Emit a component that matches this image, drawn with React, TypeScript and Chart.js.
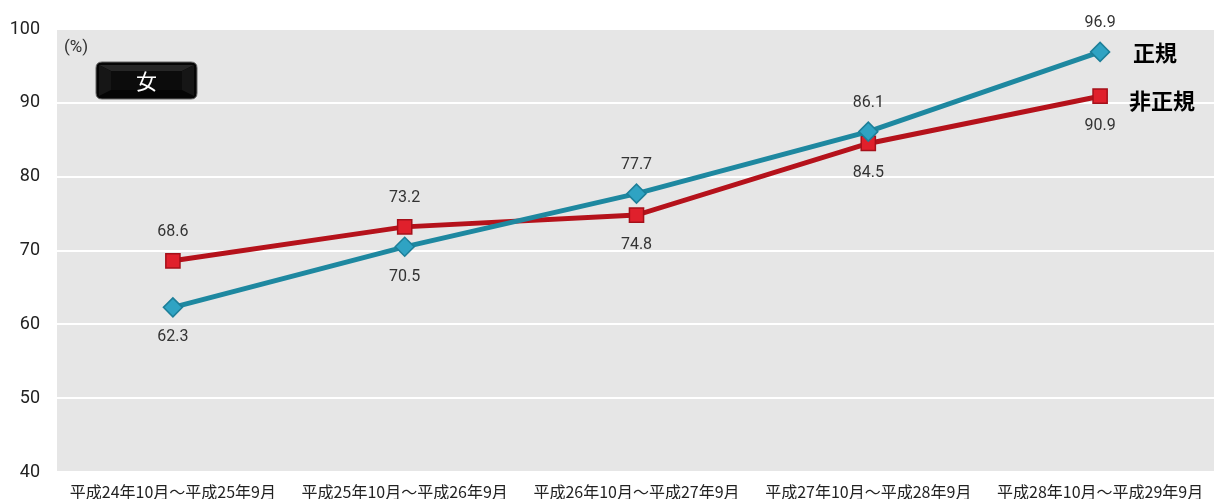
import React, { useEffect, useRef } from "react";
import { Chart, registerables } from "chart.js";

Chart.register(...registerables);

const categories = [
  "平成24年10月～平成25年9月",
  "平成25年10月～平成26年9月",
  "平成26年10月～平成27年9月",
  "平成27年10月～平成28年9月",
  "平成28年10月～平成29年9月",
];
const seiki = [62.3, 70.5, 77.7, 86.1, 96.9];
const hiseiki = [68.6, 73.2, 74.8, 84.5, 90.9];
const seikiLabelPos = ["below", "below", "above", "above", "above"];
const hiseikiLabelPos = ["above", "above", "below", "below", "below"];
const seriesNames = ["正規", "非正規"];
const yTicks = [40, 50, 60, 70, 80, 90, 100];

const NUM = "Roboto, 'Liberation Sans Narrow', sans-serif";
const JP = "'Noto Sans CJK JP', sans-serif";

const decorPlugin = {
  id: "decor",
  beforeDraw(chart: any) {
    const { ctx, chartArea } = chart;
    ctx.save();
    ctx.fillStyle = "#e6e6e6";
    ctx.fillRect(chartArea.left, chartArea.top, chartArea.right - chartArea.left, chartArea.bottom - chartArea.top);
    ctx.restore();
  },
  afterDraw(chart: any) {
    const { ctx, chartArea } = chart;
    ctx.save();
    // (%) label
    ctx.fillStyle = "#333";
    ctx.font = `17px ${NUM}`;
    ctx.textAlign = "left";
    ctx.textBaseline = "middle";
    ctx.fillText("(%)", chartArea.left + 7, chartArea.top + 19);

    // 女 badge
    const bx = chartArea.left + 39, by = chartArea.top + 33, bw = 101, bh = 37, r = 6;
    ctx.beginPath();
    ctx.moveTo(bx + r, by);
    ctx.lineTo(bx + bw - r, by);
    ctx.quadraticCurveTo(bx + bw, by, bx + bw, by + r);
    ctx.lineTo(bx + bw, by + bh - r);
    ctx.quadraticCurveTo(bx + bw, by + bh, bx + bw - r, by + bh);
    ctx.lineTo(bx + r, by + bh);
    ctx.quadraticCurveTo(bx, by + bh, bx, by + bh - r);
    ctx.lineTo(bx, by + r);
    ctx.quadraticCurveTo(bx, by, bx + r, by);
    ctx.closePath();
    ctx.fillStyle = "#050505";
    ctx.fill();
    ctx.strokeStyle = "#666";
    ctx.lineWidth = 1;
    ctx.stroke();
    // bevel
    const ins = 6;
    ctx.fillStyle = "#262626";
    ctx.beginPath();
    ctx.moveTo(bx + 3, by + 3);
    ctx.lineTo(bx + bw - 3, by + 3);
    ctx.lineTo(bx + bw - 3 - ins * 2, by + 3 + ins);
    ctx.lineTo(bx + 3 + ins * 2, by + 3 + ins);
    ctx.closePath();
    ctx.fill();
    ctx.fillStyle = "#161616";
    ctx.beginPath();
    ctx.moveTo(bx + bw - 3, by + 3);
    ctx.lineTo(bx + bw - 3, by + bh - 3);
    ctx.lineTo(bx + bw - 3 - ins * 2, by + bh - 3 - ins);
    ctx.lineTo(bx + bw - 3 - ins * 2, by + 3 + ins);
    ctx.closePath();
    ctx.fill();
    ctx.beginPath();
    ctx.moveTo(bx + 3, by + 3);
    ctx.lineTo(bx + 3, by + bh - 3);
    ctx.lineTo(bx + 3 + ins * 2, by + bh - 3 - ins);
    ctx.lineTo(bx + 3 + ins * 2, by + 3 + ins);
    ctx.closePath();
    ctx.fill();
    ctx.fillStyle = "#0c0c0c";
    ctx.fillRect(bx + 3 + ins * 2, by + 3 + ins, bw - 6 - ins * 4, bh - 6 - ins * 2);
    ctx.fillStyle = "#ffffff";
    ctx.font = `21px ${JP}`;
    ctx.textAlign = "center";
    ctx.textBaseline = "middle";
    ctx.fillText("女", bx + bw / 2, by + bh / 2 + 1);

    // data labels
    const positions = [seikiLabelPos, hiseikiLabelPos];
    ctx.font = `16px ${NUM}`;
    ctx.fillStyle = "#333";
    ctx.textAlign = "center";
    chart.data.datasets.forEach((ds: any, di: number) => {
      const meta = chart.getDatasetMeta(di);
      meta.data.forEach((pt: any, i: number) => {
        const v = ds.data[i];
        const pos = positions[di][i];
        const y = pos === "above" ? pt.y - 29 : pt.y + 30;
        ctx.fillText(v.toFixed(1), pt.x, y);
      });
    });

    // series names at end
    ctx.font = `bold 22px ${JP}`;
    ctx.fillStyle = "#000";
    ctx.textAlign = "left";
    const m0 = chart.getDatasetMeta(0).data;
    const m1 = chart.getDatasetMeta(1).data;
    const p0 = m0[m0.length - 1];
    const p1 = m1[m1.length - 1];
    ctx.fillText(seriesNames[0], p0.x + 33, p0.y + 1);
    ctx.fillText(seriesNames[1], p1.x + 29, p1.y + 4);
    ctx.restore();
  },
};

export default function App() {
  const ref = useRef<HTMLCanvasElement | null>(null);
  useEffect(() => {
    if (!ref.current) return;
    const chart = new Chart(ref.current, {
      type: "line",
      data: {
        labels: categories,
        datasets: [
          {
            label: seriesNames[0],
            data: seiki,
            borderColor: "#1e88a0",
            borderWidth: 5,
            pointStyle: "rectRot",
            pointRadius: 9.5,
            pointBackgroundColor: "#2fa3c3",
            pointBorderColor: "#1d7f99",
            pointBorderWidth: 1.5,
            tension: 0,
          },
          {
            label: seriesNames[1],
            data: hiseiki,
            borderColor: "#b5121b",
            borderWidth: 5,
            pointStyle: "rect",
            pointRadius: 10,
            pointBackgroundColor: "#e0202c",
            pointBorderColor: "#a5101a",
            pointBorderWidth: 1.5,
            tension: 0,
          },
        ],
      },
      options: {
        animation: false,
        responsive: false,
        maintainAspectRatio: false,
        layout: { autoPadding: false, padding: { top: 29, left: 0, right: 0, bottom: 0 } },
        plugins: { legend: { display: false }, tooltip: { enabled: false } },
        scales: {
          x: {
            offset: true,
            grid: { display: false },
            border: { display: false },
            ticks: { color: "#222", font: { family: JP, size: 16 }, maxRotation: 0, autoSkip: false, padding: 2 },
            afterFit(s: any) {
              s.height = 27;
              s.paddingLeft = 0;
              s.paddingRight = 0;
            },
          },
          y: {
            min: 40,
            max: 100,
            afterBuildTicks(s: any) { s.ticks = yTicks.map((v) => ({ value: v })); },
            grid: { color: "#ffffff", lineWidth: 2, drawTicks: false },
            border: { display: false },
            ticks: { color: "#222", font: { family: NUM, size: 18 }, padding: 17 },
            afterFit(s: any) {
              s.width = 57;
              s.paddingTop = 0;
              s.paddingBottom = 0;
            },
          },
        },
      },
      plugins: [decorPlugin],
    });
    return () => chart.destroy();
  }, []);
  return (
    <div style={{ position: "fixed", left: 0, top: 0, width: 1214, height: 499, overflow: "hidden", background: "#fff" }}>
      <canvas ref={ref} width={1216} height={499} style={{ display: "block" }} />
    </div>
  );
}
